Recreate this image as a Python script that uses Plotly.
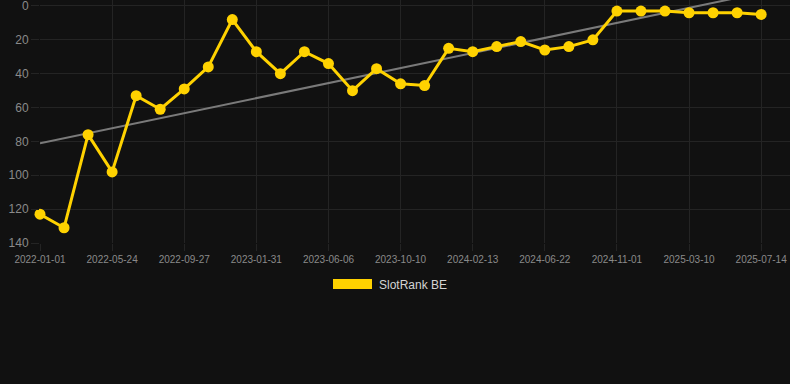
import numpy as np
import plotly.graph_objects as go

dates = [
    "2022-01-01", "2022-02-17", "2022-04-05", "2022-05-24", "2022-07-05",
    "2022-08-16", "2022-09-27", "2022-11-08", "2022-12-20", "2023-01-31",
    "2023-03-14", "2023-04-25", "2023-06-06", "2023-07-18", "2023-08-29",
    "2023-10-10", "2023-11-21", "2024-01-02", "2024-02-13", "2024-03-26",
    "2024-05-10", "2024-06-22", "2024-08-04", "2024-09-18", "2024-11-01",
    "2024-12-14", "2025-01-26", "2025-03-10", "2025-04-21", "2025-06-02",
    "2025-07-14",
]
rank = [123, 131, 76, 98, 53, 61, 49, 36, 8, 27,
        40, 27, 34, 50, 37, 46, 47, 25, 27, 24,
        21, 26, 24, 20, 3, 3, 3, 4, 4, 4, 5]
y_ticks = [0, 20, 40, 60, 80, 100, 120, 140]
x_ticks = dates[::3]
series_name = "SlotRank BE"

idx = np.arange(len(rank))
slope, intercept = np.polyfit(idx, rank, 1)
trend = slope * idx + intercept

fig = go.Figure()
fig.add_trace(go.Scatter(
    x=dates, y=trend, mode="lines",
    line=dict(color="#7a7a7a", width=2),
    showlegend=False, hoverinfo="skip",
))
fig.add_trace(go.Scatter(
    x=dates, y=rank, mode="lines+markers", name=series_name,
    line=dict(color="#FFD200", width=3),
    marker=dict(color="#FFD200", size=11),
    showlegend=False, cliponaxis=False,
))

grid = "#242424"
fig.update_layout(
    width=790, height=384,
    margin=dict(l=40, r=0, t=0, b=141),
    paper_bgcolor="#111111", plot_bgcolor="#111111",
    font=dict(family="Liberation Sans, Arial, sans-serif", color="#8a8a8a"),
    xaxis=dict(
        type="category", range=[0, 31.2],
        tickvals=x_ticks, ticktext=x_ticks,
        showgrid=True, gridcolor=grid, gridwidth=1,
        ticks="outside", ticklen=7, tickcolor=grid,
        tickfont=dict(size=10, color="#8a8a8a"),
        zeroline=False, showline=False, ticklabeloverflow="allow",
    ),
    yaxis=dict(
        range=[140, -3.54], tickvals=y_ticks,
        showgrid=True, gridcolor=grid, gridwidth=1,
        ticks="outside", ticklen=8, tickcolor=grid,
        tickfont=dict(size=12, color="#8a8a8a"),
        zeroline=False, showline=False, ticklabeloverflow="allow",
    ),
    showlegend=False,
)

# legend drawn as a swatch + label below the plot
fig.add_shape(type="rect", xref="paper", yref="paper",
              x0=(333 - 40) / 750, x1=(372 - 40) / 750,
              y0=(243 - 289) / 243, y1=(243 - 279) / 243,
              fillcolor="#FFD200", line=dict(width=0))
fig.add_annotation(text=series_name, xref="paper", yref="paper",
                   x=(377 - 40) / 750, y=(243 - 284.5) / 243,
                   xanchor="left", yanchor="middle", showarrow=False,
                   font=dict(size=12, color="#d4d4d4"))

fig.write_html("out.html",
               config={"displayModeBar": False},
               post_script="document.body.style.margin='0px';"
                           "document.body.style.background='#111111';")
